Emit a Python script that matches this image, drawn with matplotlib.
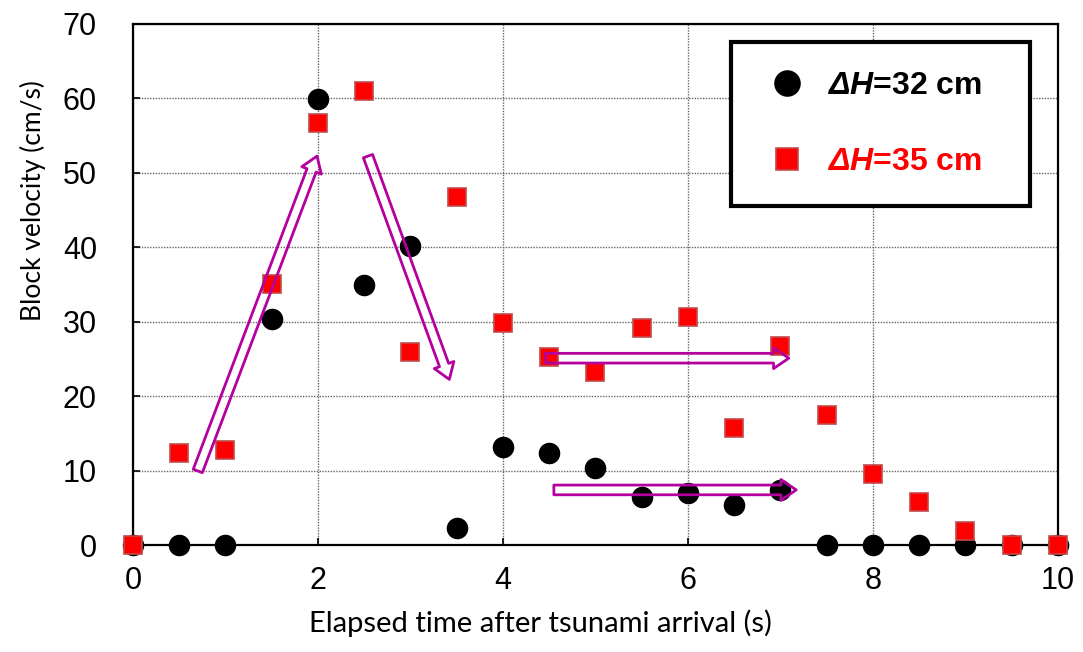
import matplotlib.pyplot as plt
from matplotlib.patches import FancyArrowPatch

plt.rcParams['font.family'] = ['Liberation Sans', 'DejaVu Sans']
plt.rcParams['mathtext.fontset'] = 'custom'
plt.rcParams['mathtext.bfit'] = 'Liberation Sans:italic:bold'
plt.rcParams['mathtext.rm'] = 'Liberation Sans:bold'

# dane
time = [0, 0.5, 1, 1.5, 2, 2.5, 3, 3.5, 4, 4.5, 5, 5.5, 6, 6.5, 7,
        7.5, 8, 8.5, 9, 9.5, 10]
v_32 = [0, 0, 0, 30.4, 59.9, 35.0, 40.2, 2.3, 13.2, 12.3, 10.4, 6.4, 7.0,
        5.4, 7.4, 0, 0, 0, 0, 0, 0]
v_35 = [0, 12.4, 12.7, 35.1, 56.7, 61.0, 25.9, 46.7, 29.8, 25.2, 23.2, 29.2,
        30.6, 15.7, 26.7, 17.5, 9.6, 5.8, 1.9, 0, 0]
labels = [r'$\mathbfit{ΔH}$=32 cm   ', r'$\mathbfit{ΔH}$=35 cm   ']

# strzalki (poczatek, koniec) w jednostkach danych
arrows = [((0.69, 9.6), (2.0, 52.6)),
          ((2.53, 52.6), (3.43, 21.9)),
          ((4.43, 25.1), (7.12, 25.1)),
          ((4.52, 7.4), (7.2, 7.4))]

fig = plt.figure(figsize=(10.83, 6.52), dpi=100)
ax = fig.add_axes([0.1228, 0.1641, 0.8541, 0.7991])

ax.plot(time, v_32, 'o', color='black', markersize=14.5, zorder=3,
        clip_on=False, label=labels[0])
ax.plot(time, v_35, 's', color='red', markeredgecolor='#c44a4a',
        markeredgewidth=1.2, markersize=13, zorder=4, clip_on=False,
        label=labels[1])

for (x0, y0), (x1, y1) in arrows:
    arr = FancyArrowPatch((x0, y0), (x1, y1),
                          arrowstyle='simple,head_length=0.55,head_width=0.75,tail_width=0.35',
                          mutation_scale=20, fc='none', ec='#b4009e', lw=2,
                          zorder=4.5)
    ax.add_patch(arr)

ax.set_xlim(0, 10)
ax.set_ylim(0, 70)
ax.set_xticks(range(0, 11, 2))
ax.set_yticks(range(0, 71, 10))
ax.tick_params(labelsize=22, direction='in', length=5, width=1.2)
ax.tick_params(axis='x', pad=15)
ax.tick_params(axis='y', pad=26)
ax.grid(True, linestyle=(0, (1, 1)), color='#666666', linewidth=1)
ax.set_axisbelow(True)
for s in ax.spines.values():
    s.set_linewidth(1.6)
    s.set_color('black')

ax.set_xlabel('Elapsed time after tsunami arrival (s)', fontsize=21,
              family=['Lato', 'DejaVu Sans'], labelpad=10, x=0.44)
ax.set_ylabel('Block velocity (cm/s)', fontsize=19,
              family=['Lato', 'DejaVu Sans'], labelpad=12, y=0.662)

leg = ax.legend(loc='upper right', bbox_to_anchor=(0.97, 0.965),
                prop={'weight': 'bold', 'size': 23}, frameon=True,
                fancybox=False, borderpad=0.9, labelspacing=1.45,
                handletextpad=0.4, borderaxespad=0, markerscale=1.25,
                handlelength=1.7)
leg.get_frame().set_edgecolor('black')
leg.get_frame().set_linewidth(3)
leg.get_frame().set_alpha(1)
leg.get_texts()[1].set_color('red')

fig.savefig('out.png', dpi=100)
